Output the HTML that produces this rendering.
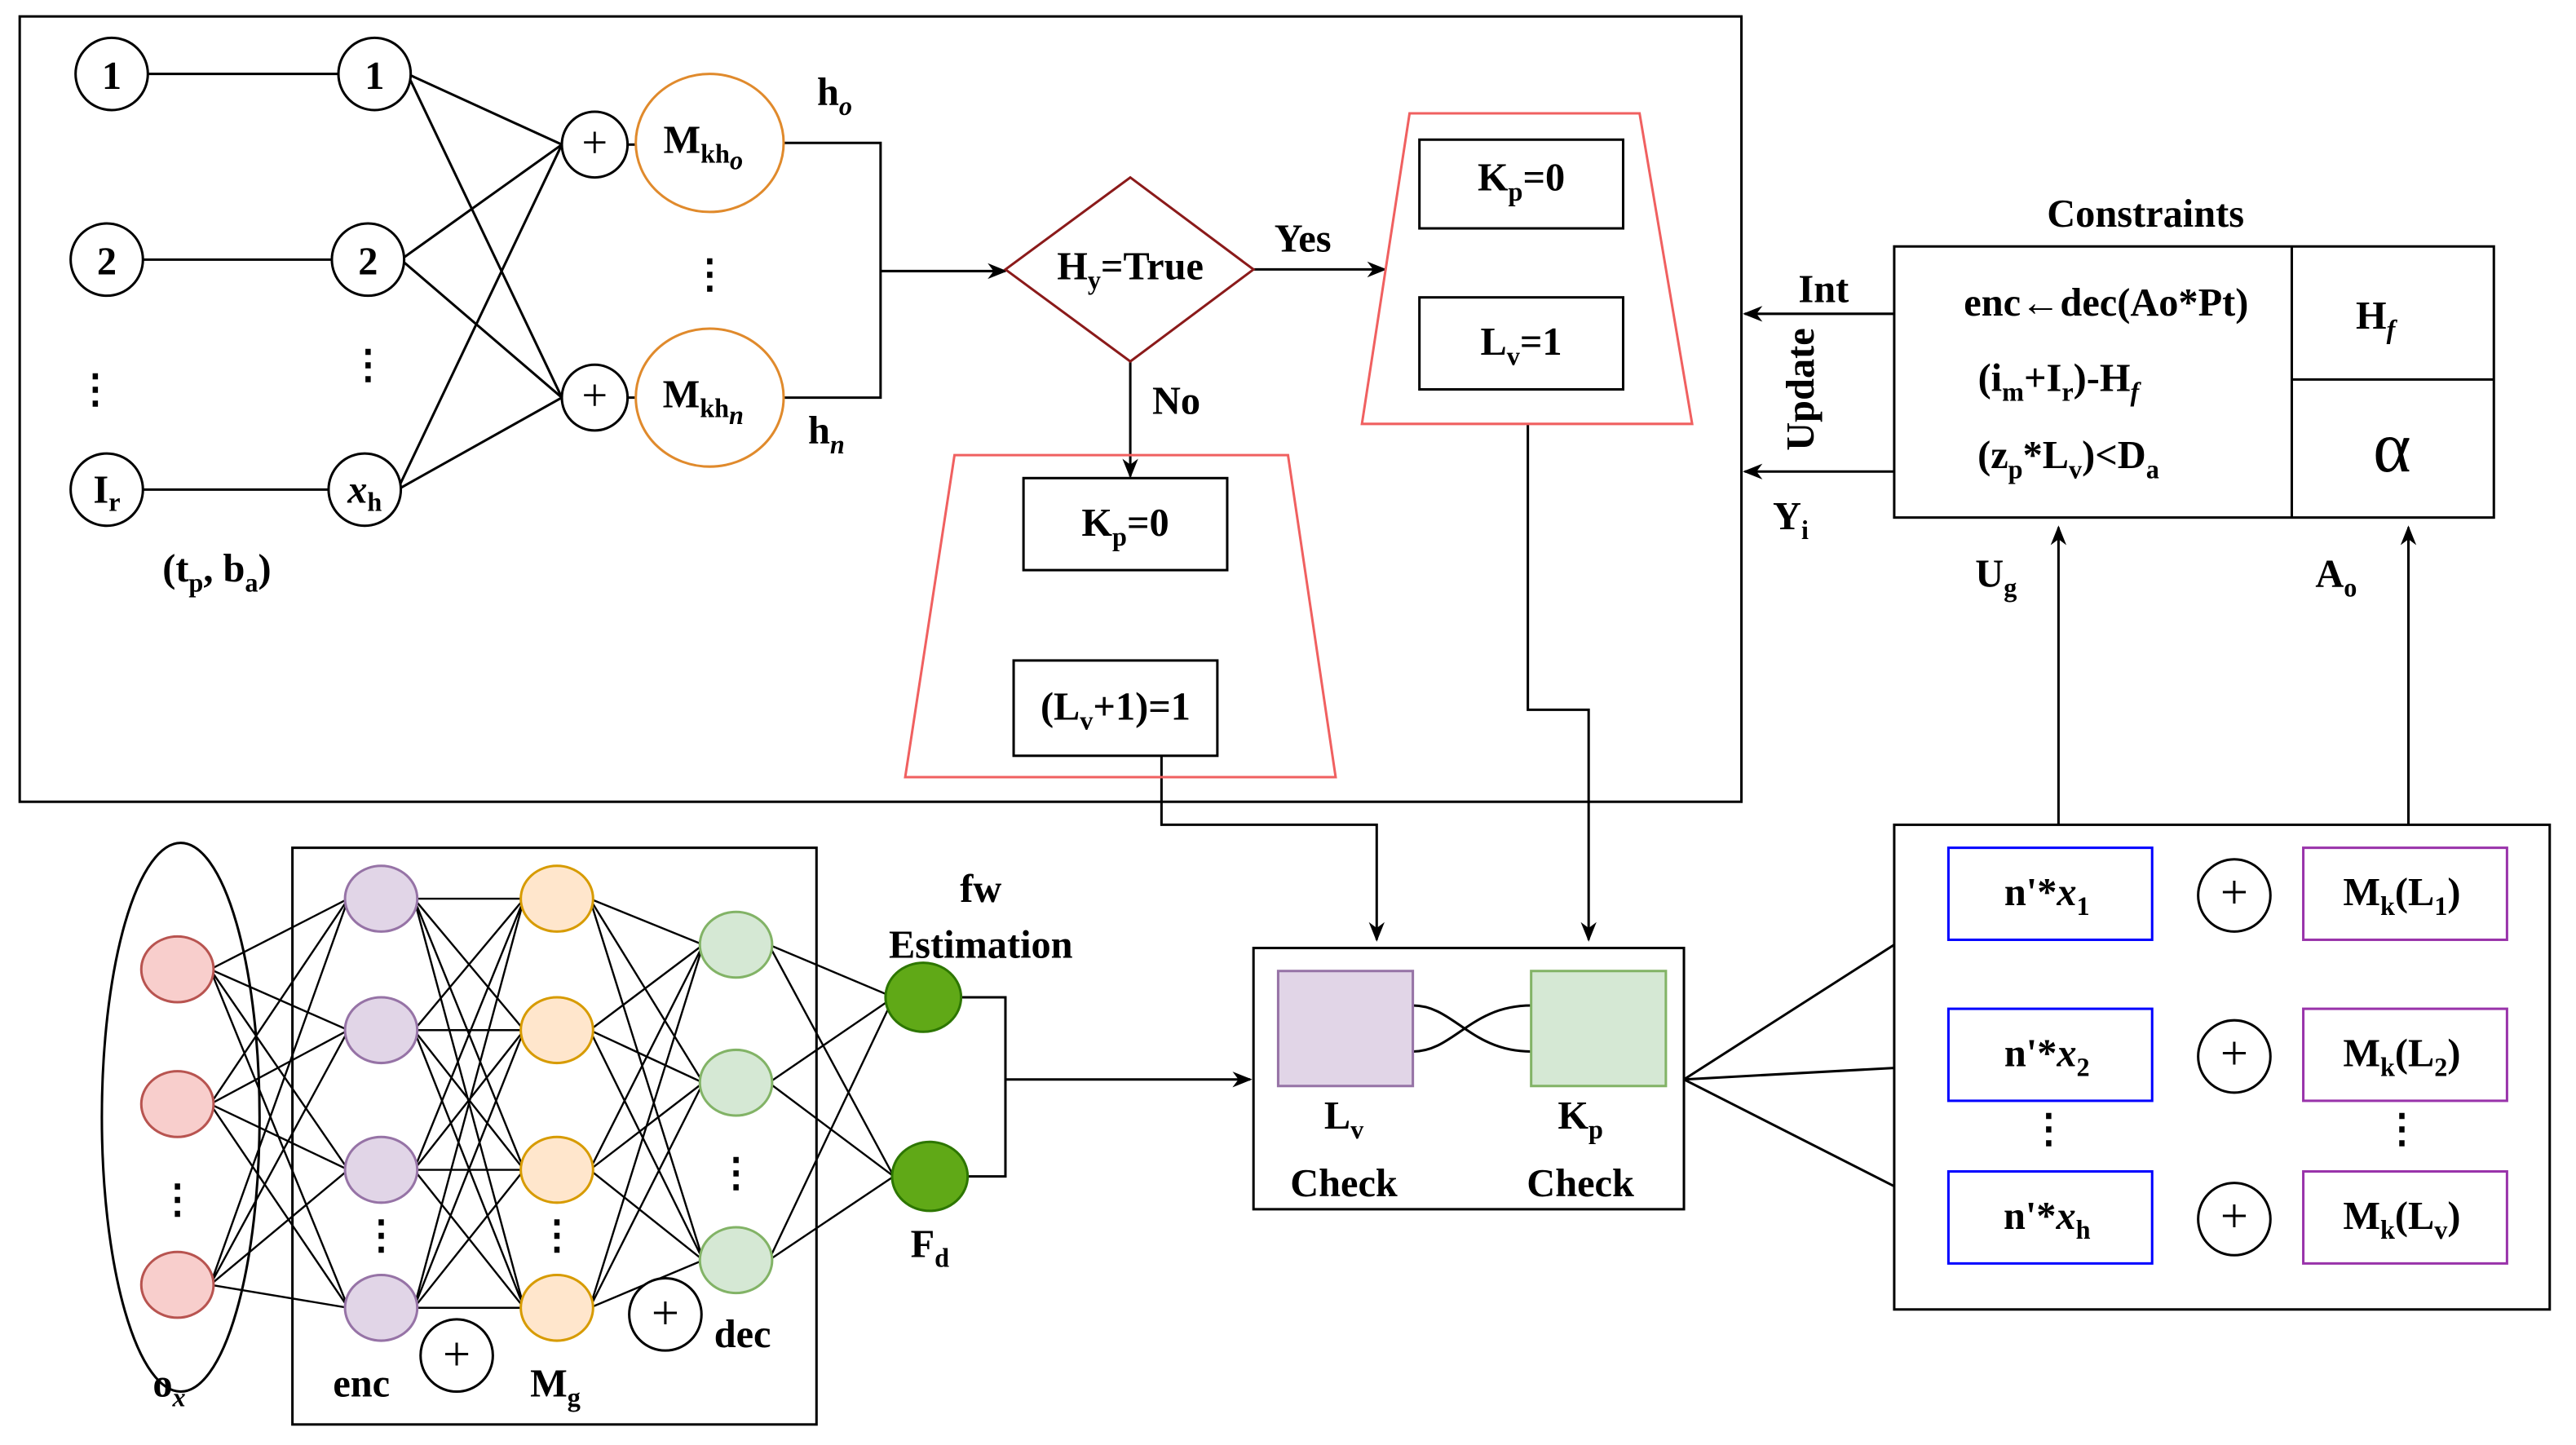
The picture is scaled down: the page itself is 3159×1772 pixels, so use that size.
<!DOCTYPE html>
<html><head><meta charset="utf-8"><style>
html,body{margin:0;padding:0;background:#fff;}
svg{display:block;}
text{font-family:"Liberation Serif",serif;font-weight:bold;font-size:24px;fill:#000;}
</style></head><body>
<svg width="3159" height="1772" viewBox="0 0 1568 879.5" preserveAspectRatio="none" xmlns="http://www.w3.org/2000/svg">
<defs><marker id="a" viewBox="0 0 10 10" refX="9" refY="5" markerWidth="8" markerHeight="8" orient="auto"><path d="M0,1 L10,5 L0,9 L3,5z" fill="#000"/></marker></defs>
<g fill="none" stroke="#000" stroke-width="1.5">
<rect x="12" y="10" width="1048" height="478"/>
<line x1="90" y1="45" x2="206" y2="45"/><line x1="87" y1="158" x2="202" y2="158"/><line x1="87" y1="298" x2="200" y2="298"/>
<line x1="248" y1="45" x2="342" y2="88"/><line x1="248" y1="45" x2="342" y2="242"/>
<line x1="244" y1="158" x2="342" y2="88"/><line x1="244" y1="158" x2="342" y2="242"/>
<line x1="242" y1="298" x2="342" y2="88"/><line x1="242" y1="298" x2="342" y2="242"/>
<line x1="382" y1="88" x2="388" y2="88"/><line x1="382" y1="242" x2="388" y2="242"/>
<polyline points="477,87 536,87 536,242 477,242"/>
<line x1="536" y1="165" x2="612" y2="165" marker-end="url(#a)"/>
<line x1="763" y1="164" x2="843" y2="164" marker-end="url(#a)"/>
<line x1="688" y1="220" x2="688" y2="290" marker-end="url(#a)"/>
<polyline points="930,258 930,432 967,432 967,572" marker-end="url(#a)"/>
<polyline points="707,460 707,502 838,502 838,572" marker-end="url(#a)"/>
<line x1="1153" y1="191" x2="1062" y2="191" marker-end="url(#a)"/>
<line x1="1153" y1="287" x2="1062" y2="287" marker-end="url(#a)"/>
<line x1="1253" y1="502" x2="1253" y2="321" marker-end="url(#a)"/>
<line x1="1466" y1="502" x2="1466" y2="321" marker-end="url(#a)"/>
<rect x="1153" y="150" width="365" height="165"/><line x1="1395" y1="150" x2="1395" y2="315"/><line x1="1395" y1="231" x2="1518" y2="231"/>
<rect x="1153" y="502" width="399" height="295"/>
<line x1="1025" y1="657" x2="1153" y2="575"/><line x1="1025" y1="657" x2="1153" y2="650"/><line x1="1025" y1="657" x2="1153" y2="722"/>
<rect x="763" y="577" width="262" height="159"/>
<path d="M860,612 C885,612 895,640 932,640 M860,640 C885,640 895,612 932,612"/>
<line x1="612" y1="657" x2="761" y2="657" marker-end="url(#a)"/>
<polyline points="585,607 612,607 612,716 589,716"/>
<rect x="178" y="516" width="319" height="351"/>
<ellipse cx="110" cy="680" rx="48" ry="167"/>
<rect x="864" y="85" width="124" height="54"/><rect x="864" y="181" width="124" height="56"/>
<rect x="623" y="291" width="124" height="56"/><rect x="617" y="402" width="124" height="58"/>
</g>
<g stroke="#000" stroke-width="1.2" fill="none">
<path d="M128,590L212,547M128,590L212,627M128,590L212,712M128,590L212,796M128,672L212,547M128,672L212,627M128,672L212,712M128,672L212,796M128,782L212,547M128,782L212,627M128,782L212,712M128,782L212,796"/>
<path d="M252,547L319,547M252,547L319,627M252,547L319,712M252,547L319,796M252,627L319,547M252,627L319,627M252,627L319,712M252,627L319,796M252,712L319,547M252,712L319,627M252,712L319,712M252,712L319,796M252,796L319,547M252,796L319,627M252,796L319,712M252,796L319,796"/>
<path d="M359,547L428,575M359,547L428,659M359,547L428,767M359,627L428,575M359,627L428,659M359,627L428,767M359,712L428,575M359,712L428,659M359,712L428,767M359,796L428,575M359,796L428,659M359,796L428,767"/>
<path d="M468,575L544,607M468,575L544,716M468,659L544,607M468,659L544,716M468,767L544,607M468,767L544,716"/>
</g>
<g stroke-width="1.5">
<g fill="#fff" stroke="#000">
<circle cx="68" cy="45" r="22"/><circle cx="65" cy="158" r="22"/><circle cx="65" cy="298" r="22"/>
<circle cx="228" cy="45" r="22"/><circle cx="224" cy="158" r="22"/><circle cx="222" cy="298" r="22"/>
<circle cx="362" cy="88" r="20"/><circle cx="362" cy="242" r="20"/>
<circle cx="1360" cy="545" r="22"/><circle cx="1360" cy="643" r="22"/><circle cx="1360" cy="742" r="22"/>
<circle cx="278" cy="825" r="22"/><circle cx="405" cy="800" r="22"/>
</g>
<ellipse cx="432" cy="87" rx="45" ry="42" fill="#fff" stroke="#e08a2c"/>
<ellipse cx="432" cy="242" rx="45" ry="42" fill="#fff" stroke="#e08a2c"/>
<polygon points="612,164 688,108 763,164 688,220" fill="#fff" stroke="#8b1a1a"/>
<polygon points="858,69 998,69 1030,258 829,258" fill="none" stroke="#f06060"/>
<polygon points="581,277 784,277 813,473 551,473" fill="none" stroke="#f06060"/>
<rect x="778" y="591" width="82" height="70" fill="#e1d5e7" stroke="#9673a6"/>
<rect x="932" y="591" width="82" height="70" fill="#d5e8d4" stroke="#82b366"/>
<g fill="#fff" stroke="#0000ff"><rect x="1186" y="516" width="124" height="56"/><rect x="1186" y="614" width="124" height="56"/><rect x="1186" y="713" width="124" height="56"/></g>
<g fill="#fff" stroke="#9933aa"><rect x="1402" y="516" width="124" height="56"/><rect x="1402" y="614" width="124" height="56"/><rect x="1402" y="713" width="124" height="56"/></g>
<g fill="#f8cecc" stroke="#b85450"><ellipse cx="108" cy="590" rx="22" ry="20"/><ellipse cx="108" cy="672" rx="22" ry="20"/><ellipse cx="108" cy="782" rx="22" ry="20"/></g>
<g fill="#e1d5e7" stroke="#9673a6"><ellipse cx="232" cy="547" rx="22" ry="20"/><ellipse cx="232" cy="627" rx="22" ry="20"/><ellipse cx="232" cy="712" rx="22" ry="20"/><ellipse cx="232" cy="796" rx="22" ry="20"/></g>
<g fill="#ffe6cc" stroke="#d79b00"><ellipse cx="339" cy="547" rx="22" ry="20"/><ellipse cx="339" cy="627" rx="22" ry="20"/><ellipse cx="339" cy="712" rx="22" ry="20"/><ellipse cx="339" cy="796" rx="22" ry="20"/></g>
<g fill="#d5e8d4" stroke="#82b366"><ellipse cx="448" cy="575" rx="22" ry="20"/><ellipse cx="448" cy="659" rx="22" ry="20"/><ellipse cx="448" cy="767" rx="22" ry="20"/></g>
<g fill="#60a917" stroke="#2d7600"><ellipse cx="562" cy="607" rx="23" ry="21"/><ellipse cx="566" cy="716" rx="23" ry="21"/></g>
</g>
<g text-anchor="middle">
<text x="68" y="54">1</text><text x="65" y="167">2</text><text x="65" y="306">I<tspan font-size="16" dy="5">r</tspan></text>
<text x="228" y="54">1</text><text x="224" y="167">2</text><text x="222" y="306" font-style="italic">x<tspan font-size="16" dy="5" font-style="normal">h</tspan></text>
<text x="58" y="245">⋮</text><text x="224" y="230">⋮</text><text x="432" y="175">⋮</text>
<text x="362" y="96" style="font-size:28px;font-weight:normal">+</text><text x="362" y="250" style="font-size:28px;font-weight:normal">+</text>
<text x="428" y="93">M<tspan font-size="16" dy="6">kh</tspan><tspan font-size="16" dy="4" font-style="italic">o</tspan></text>
<text x="428" y="248">M<tspan font-size="16" dy="6">kh</tspan><tspan font-size="16" dy="4" font-style="italic">n</tspan></text>
<text x="508" y="64">h<tspan font-size="16" dy="6" font-style="italic">o</tspan></text>
<text x="503" y="270">h<tspan font-size="16" dy="6" font-style="italic">n</tspan></text>
<text x="132" y="354">(t<tspan font-size="16" dy="6">p</tspan><tspan dy="-6">, b</tspan><tspan font-size="16" dy="6">a</tspan><tspan dy="-6">)</tspan></text>
<text x="688" y="170">H<tspan font-size="16" dy="6">y</tspan><tspan dy="-6">=True</tspan></text>
<text x="793" y="153">Yes</text><text x="716" y="252">No</text>
<text x="926" y="116">K<tspan font-size="16" dy="6">p</tspan><tspan dy="-6">=0</tspan></text>
<text x="926" y="216">L<tspan font-size="16" dy="6">v</tspan><tspan dy="-6">=1</tspan></text>
<text x="685" y="326">K<tspan font-size="16" dy="6">p</tspan><tspan dy="-6">=0</tspan></text>
<text x="679" y="438">(L<tspan font-size="16" dy="6">v</tspan><tspan dy="-6">+1)=1</tspan></text>
<text x="1306" y="138">Constraints</text>
<text x="1282" y="192">enc←dec(Ao*Pt)</text>
<text x="1253" y="238">(i<tspan font-size="16" dy="6">m</tspan><tspan dy="-6">+I</tspan><tspan font-size="16" dy="6">r</tspan><tspan dy="-6">)-H</tspan><tspan font-size="16" dy="6" font-style="italic">f</tspan></text>
<text x="1259" y="285">(z<tspan font-size="16" dy="6">p</tspan><tspan dy="-6">*L</tspan><tspan font-size="16" dy="6">v</tspan><tspan dy="-6">)&lt;D</tspan><tspan font-size="16" dy="6">a</tspan></text>
<text x="1446" y="200">H<tspan font-size="16" dy="6" font-style="italic">f</tspan></text>
<text x="1456" y="287" style="font-size:44px;font-weight:normal">α</text>
<text x="1110" y="184">Int</text>
<text x="1090" y="322">Y<tspan font-size="16" dy="6">i</tspan></text>
<text x="1104" y="237" transform="rotate(-90 1104 237)">Update</text>
<text x="1215" y="357">U<tspan font-size="16" dy="6">g</tspan></text>
<text x="1422" y="357">A<tspan font-size="16" dy="6">o</tspan></text>
<text x="1246" y="551">n'*<tspan font-style="italic">x</tspan><tspan font-size="16" dy="6">1</tspan></text>
<text x="1246" y="649">n'*<tspan font-style="italic">x</tspan><tspan font-size="16" dy="6">2</tspan></text>
<text x="1246" y="748">n'*<tspan font-style="italic">x</tspan><tspan font-size="16" dy="6">h</tspan></text>
<text x="1462" y="551">M<tspan font-size="16" dy="6">k</tspan><tspan dy="-6">(L</tspan><tspan font-size="16" dy="6">1</tspan><tspan dy="-6">)</tspan></text>
<text x="1462" y="649">M<tspan font-size="16" dy="6">k</tspan><tspan dy="-6">(L</tspan><tspan font-size="16" dy="6">2</tspan><tspan dy="-6">)</tspan></text>
<text x="1462" y="748">M<tspan font-size="16" dy="6">k</tspan><tspan dy="-6">(L</tspan><tspan font-size="16" dy="6">v</tspan><tspan dy="-6">)</tspan></text>
<text x="1360" y="553" style="font-size:30px;font-weight:normal">+</text><text x="1360" y="651" style="font-size:30px;font-weight:normal">+</text><text x="1360" y="750" style="font-size:30px;font-weight:normal">+</text>
<text x="1247" y="695">⋮</text><text x="1462" y="695">⋮</text>
<text x="818" y="687">L<tspan font-size="16" dy="6">v</tspan></text><text x="818" y="728">Check</text>
<text x="962" y="687">K<tspan font-size="16" dy="6">p</tspan></text><text x="962" y="728">Check</text>
<text x="597" y="549">fw</text><text x="597" y="583">Estimation</text>
<text x="566" y="765">F<tspan font-size="16" dy="6">d</tspan></text>
<text x="108" y="738">⋮</text><text x="232" y="760">⋮</text><text x="339" y="760">⋮</text><text x="448" y="722">⋮</text>
<text x="278" y="834" style="font-size:30px;font-weight:normal">+</text><text x="405" y="809" style="font-size:30px;font-weight:normal">+</text>
<text x="220" y="850">enc</text><text x="338" y="850">M<tspan font-size="16" dy="6">g</tspan></text>
<text x="452" y="820">dec</text>
<text x="103" y="850">o<tspan font-size="16" dy="6" font-style="italic">x</tspan></text>
</g>
</svg>
</body></html>
